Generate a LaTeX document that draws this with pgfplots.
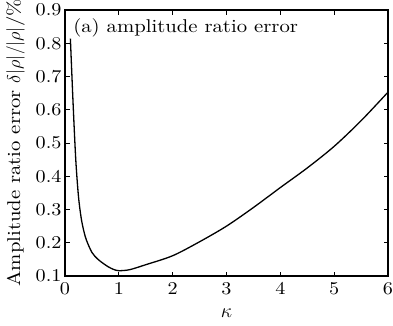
\documentclass[border=0pt]{standalone}
\usepackage{fix-cm}
\usepackage{fontspec}
\setmainfont{lmroman10-regular.otf}[FakeStretch=1.12]
\usepackage{pgfplots}
\pgfplotsset{compat=1.18}
\begin{document}
\begin{tikzpicture}
\path[use as bounding box] (-65pt,-49pt) rectangle (328pt,276pt);
\begin{axis}[
  at={(0pt,0pt)}, anchor=south west,
  scale only axis,
  width=323pt, height=266pt,
  xmin=0, xmax=6, ymin=0.1, ymax=0.9,
  xtick={0,1,2,3,4,5,6},
  ytick={0.1,0.2,0.3,0.4,0.5,0.6,0.7,0.8,0.9},
  /pgf/number format/assume math mode=true,
  yticklabel style={/pgf/number format/fixed,/pgf/number format/precision=1,/pgf/number format/fixed zerofill},
  tick align=inside, tick pos=both,
  major tick length=4.5pt,
  axis line style={line width=1.1pt},
  tick style={line width=0.8pt, black},
  ticklabel style={font=\fontsize{18}{20}\selectfont},
  xticklabel style={yshift=-3pt},
  xlabel style={font=\fontsize{20}{22}\selectfont, at={(axis description cs:0.5,-0.155)}, anchor=base},
  ylabel style={font=\fontsize{18.5}{20}\selectfont, at={(axis description cs:-0.1393,0.5)}, anchor=base},
  xlabel={$\kappa$},
  ylabel={Amplitude ratio error $\delta|\rho|/|\rho|$/\%},
]
\addplot[black, line width=1.3pt, smooth, tension=0.5] coordinates {
(0.1,0.814)(0.15,0.62)(0.2,0.45)(0.25,0.34)(0.3,0.275)(0.35,0.235)(0.4,0.207)(0.5,0.171)(0.6,0.152)(0.7,0.139)(0.8,0.128)(0.9,0.120)(1.0,0.116)(1.2,0.119)(1.5,0.134)(2,0.161)(2.5,0.203)(3,0.25)(3.5,0.306)(4,0.366)(4.5,0.425)(5,0.49)(5.5,0.567)(6,0.653)
};
\node[anchor=base west, inner sep=0pt, font=\fontsize{18.5}{20}\selectfont] at (rel axis cs:0.025,0.915) {(a) amplitude ratio error};
\end{axis}
\end{tikzpicture}
\end{document}
